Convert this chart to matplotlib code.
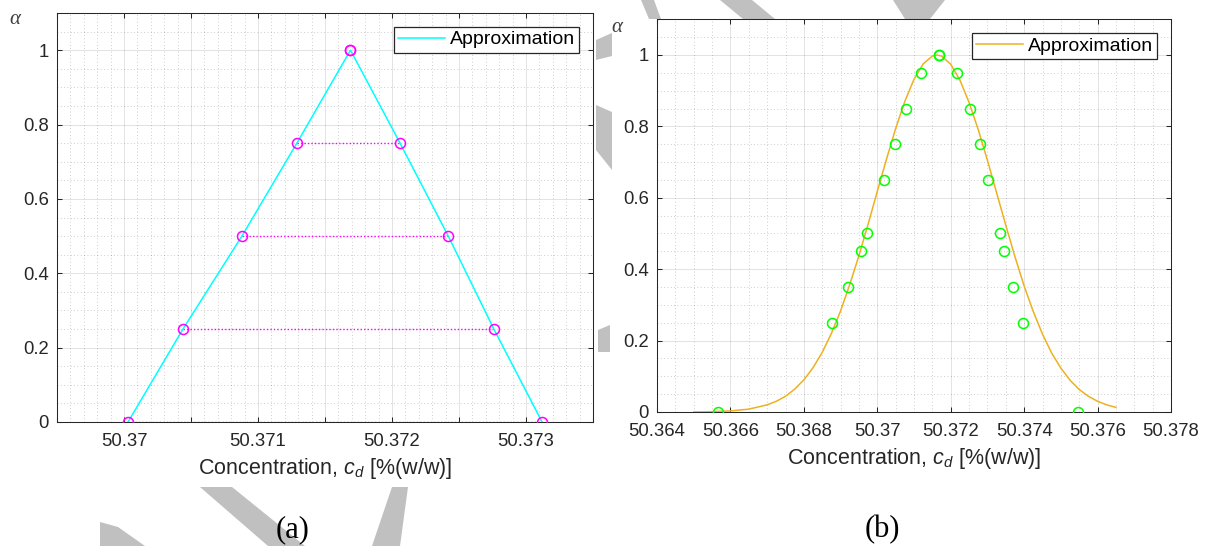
import matplotlib
matplotlib.use("Agg")
import matplotlib.pyplot as plt
from matplotlib.patches import Polygon
from matplotlib.ticker import MultipleLocator

plt.rcParams['font.family'] = ['Liberation Sans', 'DejaVu Sans']
plt.rcParams['mathtext.fontset'] = 'custom'
plt.rcParams['mathtext.rm'] = 'Liberation Sans'
plt.rcParams['mathtext.it'] = 'Liberation Sans:italic'

# (a) triangular fuzzy number, alpha-cuts
tri_alpha = [0, 0.25, 0.5, 0.75, 1]
tri_lo = [50.37003, 50.37044, 50.37088, 50.37129, 50.37169]
tri_hi = [50.37312, 50.37276, 50.37242, 50.37206, 50.37169]

# (b) alpha-cut points and fitted approximation
cut_alpha = [0, 0.25, 0.35, 0.45, 0.5, 0.65, 0.75, 0.85, 0.95, 1]
cut_lo = [50.36567, 50.36877, 50.36920, 50.36956, 50.36971,
          50.37017, 50.37048, 50.37078, 50.37119, 50.37169]
cut_hi = [50.37548, 50.37396, 50.37370, 50.37346, 50.37334,
          50.37302, 50.37279, 50.37253, 50.37217, 50.37169]

curve_x = [50.36500, 50.36550, 50.36600, 50.36650, 50.36700, 50.36725,
           50.36750, 50.36775, 50.36800, 50.36825, 50.36850, 50.36875,
           50.36900, 50.36925, 50.36950, 50.36975, 50.37000, 50.37025,
           50.37050, 50.37075, 50.37100, 50.37125, 50.37150, 50.37162,
           50.37175, 50.37200, 50.37225, 50.37250, 50.37275, 50.37300,
           50.37325, 50.37350, 50.37375, 50.37400, 50.37425, 50.37450,
           50.37475, 50.37500, 50.37525, 50.37550, 50.37575, 50.37600,
           50.37625, 50.37650]
curve_y = [0.000, 0.001, 0.003, 0.008, 0.020, 0.030,
           0.044, 0.064, 0.090, 0.124, 0.167, 0.220,
           0.283, 0.357, 0.438, 0.526, 0.618, 0.708,
           0.794, 0.870, 0.932, 0.975, 0.997, 1.000,
           0.997, 0.974, 0.930, 0.867, 0.791, 0.705,
           0.614, 0.523, 0.435, 0.353, 0.281, 0.218,
           0.165, 0.123, 0.089, 0.063, 0.044, 0.030,
           0.020, 0.013]

a_xticks = [50.3695, 50.37, 50.3705, 50.371, 50.3715, 50.372, 50.3725, 50.373, 50.3735]
a_xlabels = ['', '50.37', '', '50.371', '', '50.372', '', '50.373', '']
b_xticks = [50.364, 50.366, 50.368, 50.37, 50.372, 50.374, 50.376, 50.378]
b_xlabels = ['50.364', '50.366', '50.368', '50.37', '50.372', '50.374', '50.376', '50.378']
yticks = [0, 0.2, 0.4, 0.6, 0.8, 1]
ylabels = ['0', '0.2', '0.4', '0.6', '0.8', '1']

W, H = 1209, 546
fig = plt.figure(figsize=(W / 100, H / 100), dpi=100)
dark = '#262626'
fs = 13.3

# grey watermark fragments showing around the panels (pixel outlines)
watermark = [
    [(641, 0), (654, 0), (661, 19), (649, 19)],
    [(720, 0), (752, 0), (775, 19), (743, 19)],
    [(893, 0), (945, 0), (930, 19), (905, 19)],
    [(596, 40), (612, 33), (612, 56), (596, 60)],
    [(596, 105), (612, 112), (612, 170), (596, 150)],
    [(598, 330), (610, 325), (610, 352), (598, 352)],
    [(200, 487), (232, 487), (305, 546), (268, 546)],
    [(392, 487), (408, 487), (400, 546), (372, 546)],
    [(100, 522), (118, 527), (145, 546), (100, 546)],
]
for shape in watermark:
    fig.patches.append(Polygon([(x / W, 1 - y / H) for x, y in shape], closed=True,
                               transform=fig.transFigure, facecolor='#c0c0c0',
                               edgecolor='none', zorder=-5))


def px_axes(x0, y0, x1, y1):
    return fig.add_axes([x0 / W, 1 - y1 / H, (x1 - x0) / W, (y1 - y0) / H])


def style(ax, xticks, xlabels, xminor):
    ax.set_xticks(xticks)
    ax.set_xticklabels(xlabels)
    ax.set_yticks(yticks)
    ax.set_yticklabels(ylabels)
    ax.xaxis.set_minor_locator(MultipleLocator(xminor))
    ax.yaxis.set_minor_locator(MultipleLocator(0.05))
    ax.set_ylim(0, 1.1)
    ax.tick_params(which='major', direction='in', length=3.6, width=0.75,
                   top=True, right=True, colors=dark, labelsize=fs)
    ax.tick_params(axis='x', which='major', pad=8)
    ax.tick_params(axis='y', which='major', pad=6)
    ax.tick_params(which='minor', length=0, top=True, right=True)
    ax.grid(which='major', color=dark, alpha=0.15, linewidth=0.6)
    ax.grid(which='minor', color=dark, alpha=0.3, linewidth=0.6, linestyle=(0, (1, 3)))
    ax.set_axisbelow(True)
    for sp in ax.spines.values():
        sp.set_color(dark)
        sp.set_linewidth(0.75)
    ax.set_xlabel(r'Concentration, $c_d$ [%(w/w)]', fontsize=15.5, color=dark, labelpad=4)
    leg = ax.legend(loc='upper right', fontsize=14, fancybox=False, framealpha=1,
                    edgecolor=dark, handlelength=2.4, handletextpad=0.25,
                    borderpad=0.22, borderaxespad=0.7)
    leg.get_frame().set_linewidth(0.9)


# panel (a)
ax1 = px_axes(57, 13, 593, 422)
ax1.plot(tri_lo + tri_hi[::-1][1:], tri_alpha + tri_alpha[::-1][1:],
         color='#00FFFF', lw=1.1, label='Approximation', zorder=3)
for a, lo, hi in zip(tri_alpha, tri_lo, tri_hi):
    ax1.plot([lo, hi], [a, a], color='#FF00FF', lw=1.0, linestyle=(0, (1, 1.5)), zorder=2)
ax1.plot(tri_lo + tri_hi, tri_alpha + tri_alpha, linestyle='none', marker='o',
         ms=7.2, mfc='none', mec='#FF00FF', mew=1.1, zorder=4)
ax1.set_xlim(50.3695, 50.3735)
style(ax1, a_xticks, a_xlabels, 0.0001)

# panel (b)
ax2 = px_axes(657, 19.3, 1171, 412)
ax2.plot(curve_x, curve_y, color='#EDB120', lw=1.1, label='Approximation', zorder=3)
ax2.plot(cut_lo + cut_hi, cut_alpha + cut_alpha, linestyle='none', marker='o',
         ms=7.2, mfc='none', mec='#00FF00', mew=1.1, zorder=4)
ax2.set_xlim(50.364, 50.378)
style(ax2, b_xticks, b_xlabels, 0.0005)

# alpha labels and captions
for x, y in [(15, 20), (617, 28)]:
    fig.text(x / W, 1 - y / H, 'α', family='Liberation Serif', style='italic',
             fontsize=15, color='#404040', ha='center', va='center')
for x, s in [(293, '(a)'), (882, '(b)')]:
    fig.text(x / W, 1 - 530 / H, s, family='Liberation Serif', fontsize=22,
             color='black', ha='center', va='center')

fig.savefig('out.png', dpi=100)
